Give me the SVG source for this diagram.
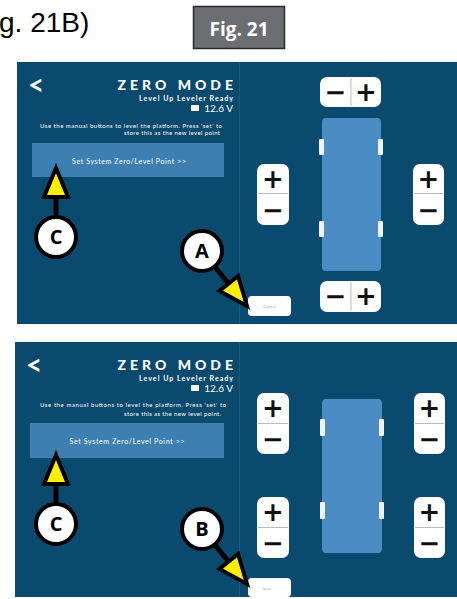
<svg xmlns="http://www.w3.org/2000/svg" width="457" height="599" viewBox="0 0 457 599">
<style>
.panel{fill:#0a4a6f}
.sep{stroke:#1d5880;stroke-width:1}
.wt{fill:#ffffff;font-family:Lato,"Open Sans",sans-serif}
.chev{font-size:28px;font-weight:700}
.ttl{font-size:14px;font-weight:900;letter-spacing:4px}
.sub{font-size:7px;font-weight:700}
.volt{font-size:10px}
.ins{font-size:6px}
.btn{fill:#3e7fb2}
.btxt{font-size:7px}
.plat{fill:#4a8cc3}
.tab{fill:#f2f2f2}
.key{fill:#ffffff}
.kdiv{stroke:#bbbbbb;stroke-width:1}
.sym{fill:#111111;font-family:"DejaVu Sans",sans-serif;font-weight:700;font-size:26px;text-anchor:middle}
.small{fill:#999999;font-family:"Open Sans",sans-serif;font-size:4px;text-anchor:middle}
.ring{fill:#ffffff;stroke:#000000;stroke-width:4}
.rl{fill:#000000;font-family:"Open Sans",sans-serif;font-weight:700;font-size:20px;text-anchor:middle}
.stem{stroke:#000000;stroke-width:5;fill:none}
.head{fill:#ffee00;stroke:#000000;stroke-width:4;stroke-linejoin:miter}
</style>
<defs>
<polygon id="tri" points="0,0 -12,29 12,29"/>
</defs>

<g id="header">
<text x="-1" y="32" font-family="Liberation Sans, Arial, sans-serif" font-size="28" fill="#000">g. 21B)</text>
<rect x="193.5" y="6.5" width="91" height="42" fill="#6d6e71" stroke="#2b2b2b" stroke-width="1.5"/>
<text x="239" y="36" text-anchor="middle" font-family="'Open Sans', sans-serif" font-weight="700" font-size="19" fill="#ffffff">Fig. 21</text>
</g>

<!-- Panel A -->
<g id="panel-a">
<rect class="panel" x="17" y="62" width="440" height="262"/>
<line class="sep" x1="239.5" y1="62" x2="239.5" y2="324"/>
<text class="wt chev" x="36" y="95" text-anchor="middle">&lt;</text>
<text class="wt ttl" x="237" y="90" text-anchor="end">ZERO MODE</text>
<text class="wt sub" x="233" y="101" text-anchor="end" textLength="94" lengthAdjust="spacing">Level Up Leveler Ready</text>
<rect x="191" y="105" width="8" height="6" fill="#ffffff"/>
<text class="wt volt" x="233" y="112" text-anchor="end">12.6 V</text>
<text class="wt ins" x="222" y="128" text-anchor="end" textLength="182" lengthAdjust="spacing">Use the manual buttons to level the platform.  Press 'set' to</text>
<text class="wt ins" x="220" y="135" text-anchor="end" textLength="96" lengthAdjust="spacing">store this as the new level point</text>
<rect class="btn" x="32" y="143" width="192" height="34"/>
<text class="wt btxt" x="129" y="164" text-anchor="middle" textLength="114" lengthAdjust="spacing">Set System Zero/Level Point &gt;&gt;</text>
<rect class="plat" x="322" y="118" width="59" height="153" rx="4"/>
<rect class="tab" x="319" y="139" width="5" height="16" rx="1"/>
<rect class="tab" x="378" y="139" width="5" height="16" rx="1"/>
<rect class="tab" x="319" y="221" width="5" height="16" rx="1"/>
<rect class="tab" x="378" y="221" width="5" height="16" rx="1"/>
<rect class="key" x="320" y="77" width="61" height="30" rx="7"/>
<line class="kdiv" x1="351" y1="78" x2="351" y2="106"/>
<text class="sym" x="335.5" y="101">−</text>
<text class="sym" x="366" y="101">+</text>
<rect class="key" x="320" y="281" width="61" height="31" rx="7"/>
<line class="kdiv" x1="351" y1="282" x2="351" y2="311"/>
<text class="sym" x="335.5" y="305">−</text>
<text class="sym" x="366" y="305">+</text>
<rect class="key" x="257" y="164" width="32" height="61" rx="7"/>
<line class="kdiv" x1="258" y1="193.5" x2="288" y2="193.5"/>
<text class="sym" x="273" y="188">+</text>
<text class="sym" x="273" y="219">−</text>
<rect class="key" x="413" y="164" width="31" height="61" rx="7"/>
<line class="kdiv" x1="414" y1="193.5" x2="443" y2="193.5"/>
<text class="sym" x="428.5" y="188">+</text>
<text class="sym" x="428.5" y="219">−</text>
<rect class="key" x="248" y="296" width="43" height="20" rx="4"/>
<text class="small" x="269.5" y="307.5">Cancel</text>
</g>

<!-- Panel B -->
<g id="panel-b">
<rect class="panel" x="15" y="342" width="442" height="255"/>
<line class="sep" x1="239.5" y1="342" x2="239.5" y2="597"/>
<text class="wt chev" x="34" y="375" text-anchor="middle">&lt;</text>
<text class="wt ttl" x="237" y="370" text-anchor="end">ZERO MODE</text>
<text class="wt sub" x="233" y="381" text-anchor="end" textLength="94" lengthAdjust="spacing">Level Up Leveler Ready</text>
<rect x="191" y="385" width="8" height="6" fill="#ffffff"/>
<text class="wt volt" x="233" y="392" text-anchor="end">12.6 V</text>
<text class="wt ins" x="226" y="407" text-anchor="end" textLength="186" lengthAdjust="spacing">Use the manual buttons to level the platform.  Press 'set' to</text>
<text class="wt ins" x="221" y="416" text-anchor="end" textLength="97" lengthAdjust="spacing">store this as the new level point.</text>
<rect class="btn" x="30" y="423" width="194" height="35"/>
<text class="wt btxt" x="127" y="444" text-anchor="middle" textLength="115" lengthAdjust="spacing">Set System Zero/Level Point &gt;&gt;</text>
<rect class="plat" x="322" y="399" width="60" height="154" rx="4"/>
<rect class="tab" x="320" y="419" width="5" height="17" rx="1"/>
<rect class="tab" x="379" y="419" width="5" height="17" rx="1"/>
<rect class="tab" x="320" y="502" width="5" height="17" rx="1"/>
<rect class="tab" x="379" y="502" width="5" height="17" rx="1"/>
<rect class="key" x="257" y="393" width="32" height="61" rx="7"/>
<line class="kdiv" x1="258" y1="423.5" x2="288" y2="423.5"/>
<text class="sym" x="273" y="417">+</text>
<text class="sym" x="273" y="448">−</text>
<rect class="key" x="257" y="497" width="32" height="61" rx="7"/>
<line class="kdiv" x1="258" y1="527.5" x2="288" y2="527.5"/>
<text class="sym" x="273" y="521">+</text>
<text class="sym" x="273" y="552">−</text>
<rect class="key" x="414" y="393" width="31" height="61" rx="7"/>
<line class="kdiv" x1="415" y1="423.5" x2="444" y2="423.5"/>
<text class="sym" x="429.5" y="417">+</text>
<text class="sym" x="429.5" y="448">−</text>
<rect class="key" x="414" y="497" width="31" height="61" rx="7"/>
<line class="kdiv" x1="415" y1="527.5" x2="444" y2="527.5"/>
<text class="sym" x="429.5" y="521">+</text>
<text class="sym" x="429.5" y="552">−</text>
<rect class="key" x="248" y="578" width="43" height="19" rx="4"/>
<text class="small" x="267" y="590">Save</text>
</g>

<g id="connectors">
<line class="stem" x1="56" y1="215" x2="56" y2="196"/>
<use href="#tri" class="head" transform="translate(56,168)"/>
<line class="stem" x1="202" y1="251" x2="228" y2="283"/>
<use href="#tri" class="head" transform="translate(247,306) rotate(141)"/>
<line class="stem" x1="56" y1="502" x2="56" y2="483"/>
<use href="#tri" class="head" transform="translate(56,455)"/>
<line class="stem" x1="202" y1="529" x2="228" y2="561"/>
<use href="#tri" class="head" transform="translate(247,584) rotate(141)"/>
</g>

<g id="callout-c1"><circle class="ring" cx="56" cy="237" r="20"/><text class="rl" x="56" y="244">C</text></g>
<g id="callout-a"><circle class="ring" cx="202" cy="251" r="20"/><text class="rl" x="202" y="258">A</text></g>
<g id="callout-c2"><circle class="ring" cx="56" cy="524" r="20"/><text class="rl" x="56" y="531">C</text></g>
<g id="callout-b"><circle class="ring" cx="202" cy="529" r="20"/><text class="rl" x="202" y="536">B</text></g>
</svg>
